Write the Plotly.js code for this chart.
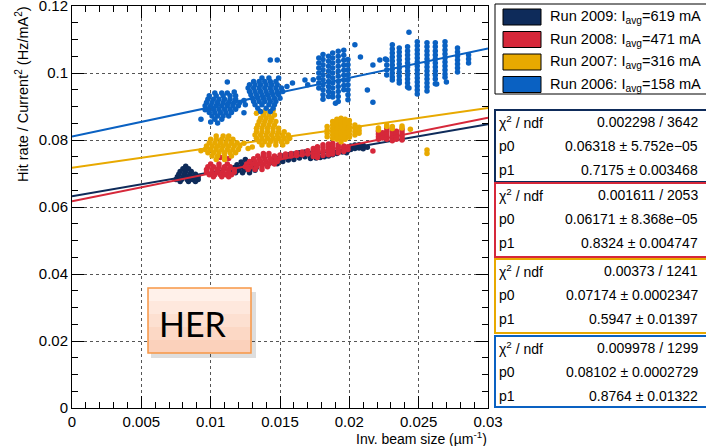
<!DOCTYPE html>
<html>
<head>
<meta charset="utf-8">
<script src="https://cdn.plot.ly/plotly-3.0.1.min.js"></script>
<style>html,body{margin:0;padding:0;background:#fff;}#chart{width:706px;height:446px;}</style>
</head>
<body>
<div id="chart"></div>
<script>
// ---------------- data ----------------
var runs = ['2009', '2008', '2007', '2006'];
var currents = [619, 471, 316, 158];
var colors = ['#0e2b5a', '#d6283a', '#e8a900', '#0a61c2'];
var chi2Text = ['0.002298 / 3642', '0.001611 / 2053', '0.00373 / 1241', '0.009978 / 1299'];
var p0 = [0.06318, 0.06171, 0.07174, 0.08102];
var p0Err = ['5.752e\u221205', '8.368e\u221205', '0.0002347', '0.0002729'];
var p1 = [0.7175, 0.8324, 0.5947, 0.8764];
var p1Err = ['0.003468', '0.004747', '0.01397', '0.01322'];
var fitRange = [0, 0.03];
var xTicks = [0, 0.005, 0.01, 0.015, 0.02, 0.025, 0.03];
var yTicks = [0, 0.02, 0.04, 0.06, 0.08, 0.1, 0.12];

// Run 2009 (navy) points [x, y]
var run2009Pts = [
[0.0082,0.0722],[0.0080,0.0714],[0.0084,0.0714],[0.0078,0.0706],[0.0082,0.0706],[0.0086,0.0706],
[0.0077,0.0698],[0.0081,0.0698],[0.0085,0.0698],[0.0089,0.0698],
[0.0076,0.0690],[0.0080,0.0690],[0.0084,0.0690],[0.0088,0.0690],[0.0091,0.0690],
[0.0075,0.0682],[0.0079,0.0682],[0.0083,0.0682],[0.0087,0.0682],[0.0091,0.0682],
[0.0078,0.0676],[0.0084,0.0676],[0.0089,0.0676],
[0.0125,0.0742],[0.0122,0.0734],[0.0126,0.0734],[0.0130,0.0734],
[0.0119,0.0726],[0.0123,0.0726],[0.0127,0.0726],[0.0131,0.0726],
[0.0117,0.0718],[0.0121,0.0718],[0.0125,0.0718],[0.0129,0.0718],[0.0133,0.0718],
[0.0116,0.0710],[0.0120,0.0710],[0.0124,0.0710],[0.0128,0.0710],[0.0132,0.0710],
[0.0118,0.0702],[0.0123,0.0702],[0.0128,0.0702],
[0.0145,0.0740],[0.0145,0.0732],[0.0148,0.0745],[0.0148,0.0737],[0.0148,0.0729],
[0.0152,0.0752],[0.0152,0.0744],[0.0152,0.0736],[0.0156,0.0756],[0.0156,0.0748],[0.0156,0.0740],
[0.0160,0.0758],[0.0160,0.0750],[0.0160,0.0742],[0.0164,0.0762],[0.0164,0.0754],[0.0164,0.0746],
[0.0168,0.0764],[0.0168,0.0756],[0.0168,0.0750],[0.0172,0.0760],[0.0172,0.0752],[0.0172,0.0745],
[0.0176,0.0762],[0.0176,0.0754],[0.0176,0.0746],[0.0179,0.0748],[0.0182,0.0750],[0.0185,0.0752],
[0.0188,0.0756],[0.0191,0.0760],[0.0195,0.0764],[0.0198,0.0770],[0.0198,0.0762],
[0.0201,0.0782],[0.0201,0.0772],[0.0204,0.0785],[0.0204,0.0775],
[0.0207,0.0786],[0.0207,0.0776],[0.0210,0.0784],[0.0210,0.0774],[0.0213,0.0778]
];

// Run 2008 (red) points [x, y]
var run2008Pts = [
[0.0100,0.0728],[0.0106,0.0728],[0.0112,0.0728],
[0.0098,0.0720],[0.0102,0.0720],[0.0106,0.0720],[0.0110,0.0720],[0.0114,0.0720],
[0.0097,0.0712],[0.0101,0.0712],[0.0105,0.0712],[0.0109,0.0712],[0.0113,0.0712],[0.0117,0.0712],
[0.0097,0.0704],[0.0101,0.0704],[0.0105,0.0704],[0.0109,0.0704],[0.0113,0.0704],[0.0117,0.0704],
[0.0099,0.0696],[0.0103,0.0696],[0.0107,0.0696],[0.0111,0.0696],[0.0115,0.0696],
[0.0102,0.0690],[0.0108,0.0690],[0.0113,0.0690],[0.0107,0.0748],[0.0113,0.0745],
[0.0138,0.0760],[0.0142,0.0760],
[0.0134,0.0752],[0.0138,0.0752],[0.0142,0.0752],[0.0146,0.0752],
[0.0131,0.0744],[0.0135,0.0744],[0.0139,0.0744],[0.0143,0.0744],[0.0147,0.0744],
[0.0128,0.0736],[0.0132,0.0736],[0.0136,0.0736],[0.0140,0.0736],[0.0144,0.0736],[0.0148,0.0736],
[0.0126,0.0728],[0.0130,0.0728],[0.0134,0.0728],[0.0138,0.0728],[0.0142,0.0728],[0.0146,0.0728],
[0.0125,0.0720],[0.0129,0.0720],[0.0133,0.0720],[0.0137,0.0720],[0.0141,0.0720],
[0.0127,0.0712],[0.0132,0.0712],[0.0137,0.0712],
[0.0150,0.0755],[0.0150,0.0747],[0.0154,0.0758],[0.0154,0.0750],[0.0158,0.0760],[0.0158,0.0752],
[0.0162,0.0762],[0.0162,0.0754],[0.0166,0.0764],[0.0166,0.0756],[0.0170,0.0768],[0.0170,0.0758],
[0.0174,0.0775],[0.0174,0.0767],[0.0174,0.0759],[0.0174,0.0751],
[0.0177,0.0780],[0.0177,0.0772],[0.0177,0.0764],[0.0177,0.0756],[0.0177,0.0748],
[0.0181,0.0786],[0.0181,0.0778],[0.0181,0.0770],[0.0181,0.0762],[0.0181,0.0754],
[0.0185,0.0788],[0.0185,0.0780],[0.0185,0.0772],[0.0185,0.0764],[0.0185,0.0756],
[0.0188,0.0790],[0.0188,0.0782],[0.0188,0.0774],[0.0188,0.0766],[0.0188,0.0758],
[0.0192,0.0786],[0.0192,0.0778],[0.0192,0.0770],[0.0192,0.0762],
[0.0196,0.0782],[0.0196,0.0774],[0.0196,0.0766],[0.0199,0.0780],[0.0199,0.0772],
[0.0221,0.0826],[0.0221,0.0818],[0.0221,0.0810],[0.0221,0.0802],
[0.0224,0.0822],[0.0224,0.0814],[0.0224,0.0806],
[0.0227,0.0835],[0.0227,0.0826],[0.0227,0.0818],[0.0227,0.0810],[0.0227,0.0802],
[0.0231,0.0830],[0.0231,0.0822],[0.0231,0.0814],[0.0231,0.0806],[0.0231,0.0798],
[0.0234,0.0826],[0.0234,0.0818],[0.0234,0.0810],[0.0234,0.0802],
[0.0238,0.0832],[0.0238,0.0824],[0.0238,0.0816],[0.0238,0.0808],[0.0238,0.0800],
[0.0217,0.0767]
];

// Run 2007 (gold) points [x, y]
var run2007Pts = [
[0.0104,0.0812],[0.0109,0.0812],[0.0113,0.0812],
[0.0100,0.0802],[0.0104,0.0802],[0.0108,0.0802],[0.0112,0.0802],[0.0116,0.0802],
[0.0099,0.0792],[0.0103,0.0792],[0.0107,0.0792],[0.0111,0.0792],[0.0115,0.0792],[0.0119,0.0792],
[0.0097,0.0782],[0.0101,0.0782],[0.0105,0.0782],[0.0109,0.0782],[0.0113,0.0782],[0.0117,0.0782],[0.0121,0.0782],
[0.0096,0.0772],[0.0100,0.0772],[0.0104,0.0772],[0.0108,0.0772],[0.0112,0.0772],[0.0116,0.0772],[0.0120,0.0772],
[0.0098,0.0762],[0.0102,0.0762],[0.0106,0.0762],[0.0110,0.0762],[0.0114,0.0762],[0.0118,0.0762],
[0.0101,0.0752],[0.0105,0.0752],[0.0110,0.0752],[0.0115,0.0752],[0.0104,0.0742],[0.0110,0.0742],
[0.0124,0.0790],[0.0127,0.0775],[0.0093,0.0768],[0.0130,0.0779],
[0.0139,0.0885],[0.0143,0.0885],[0.0133,0.0880],[0.0145,0.0889],
[0.0138,0.0875],[0.0142,0.0875],[0.0146,0.0875],
[0.0136,0.0865],[0.0140,0.0865],[0.0144,0.0865],
[0.0135,0.0855],[0.0139,0.0855],[0.0143,0.0855],[0.0147,0.0855],
[0.0134,0.0845],[0.0138,0.0845],[0.0142,0.0845],[0.0146,0.0845],
[0.0133,0.0835],[0.0137,0.0835],[0.0141,0.0835],[0.0145,0.0835],[0.0149,0.0835],
[0.0133,0.0825],[0.0137,0.0825],[0.0141,0.0825],[0.0145,0.0825],[0.0149,0.0825],[0.0153,0.0825],
[0.0132,0.0815],[0.0136,0.0815],[0.0140,0.0815],[0.0144,0.0815],[0.0148,0.0815],[0.0152,0.0815],[0.0156,0.0815],
[0.0133,0.0805],[0.0137,0.0805],[0.0141,0.0805],[0.0145,0.0805],[0.0149,0.0805],[0.0153,0.0805],[0.0157,0.0805],
[0.0135,0.0795],[0.0139,0.0795],[0.0143,0.0795],[0.0147,0.0795],[0.0151,0.0795],[0.0155,0.0795],
[0.0137,0.0785],[0.0142,0.0785],[0.0147,0.0785],[0.0152,0.0785],
[0.0184,0.0840],[0.0184,0.0830],[0.0184,0.0820],[0.0184,0.0810],
[0.0188,0.0855],[0.0188,0.0845],[0.0188,0.0835],[0.0188,0.0825],[0.0188,0.0815],[0.0188,0.0805],
[0.0191,0.0862],[0.0191,0.0852],[0.0191,0.0842],[0.0191,0.0832],[0.0191,0.0822],[0.0191,0.0812],[0.0191,0.0802],
[0.0194,0.0865],[0.0194,0.0855],[0.0194,0.0845],[0.0194,0.0835],[0.0194,0.0825],[0.0194,0.0815],[0.0194,0.0805],[0.0194,0.0795],
[0.0197,0.0862],[0.0197,0.0852],[0.0197,0.0842],[0.0197,0.0832],[0.0197,0.0822],[0.0197,0.0812],[0.0197,0.0802],
[0.0200,0.0858],[0.0200,0.0848],[0.0200,0.0838],[0.0200,0.0828],[0.0200,0.0818],[0.0200,0.0808],
[0.0204,0.0845],[0.0204,0.0835],[0.0204,0.0825],[0.0204,0.0815],
[0.0207,0.0838],[0.0207,0.0828],[0.0207,0.0820],
[0.0221,0.0836],[0.0221,0.0830],[0.0227,0.0845],[0.0227,0.0840],[0.0231,0.0840],[0.0231,0.0834],
[0.0238,0.0842],[0.0238,0.0836],[0.0244,0.0832],[0.0256,0.0770],[0.0256,0.0760]
];

// Run 2006 (blue) points [x, y]
var run2006Pts = [
[0.0103,0.0940],[0.0108,0.0940],[0.0112,0.0940],
[0.0099,0.0932],[0.0104,0.0932],[0.0109,0.0932],[0.0114,0.0932],[0.0118,0.0932],
[0.0098,0.0922],[0.0102,0.0922],[0.0106,0.0922],[0.0110,0.0922],[0.0114,0.0922],[0.0118,0.0922],
[0.0097,0.0912],[0.0101,0.0912],[0.0105,0.0912],[0.0109,0.0912],[0.0113,0.0912],[0.0117,0.0912],[0.0121,0.0912],
[0.0096,0.0902],[0.0100,0.0902],[0.0104,0.0902],[0.0108,0.0902],[0.0112,0.0902],[0.0116,0.0902],[0.0120,0.0902],
[0.0098,0.0892],[0.0102,0.0892],[0.0106,0.0892],[0.0110,0.0892],[0.0114,0.0892],[0.0118,0.0892],
[0.0099,0.0882],[0.0103,0.0882],[0.0107,0.0882],[0.0111,0.0882],[0.0115,0.0882],
[0.0101,0.0872],[0.0105,0.0872],[0.0109,0.0872],[0.0113,0.0872],[0.0103,0.0862],[0.0108,0.0862],
[0.0093,0.0862],[0.0112,0.0973],[0.0100,0.0854],[0.0105,0.0851],[0.0124,0.0918],[0.0096,0.0890],[0.0117,0.0943],
[0.0137,0.0985],[0.0142,0.0985],
[0.0131,0.0975],[0.0135,0.0975],[0.0139,0.0975],[0.0143,0.0975],[0.0147,0.0975],
[0.0128,0.0965],[0.0132,0.0965],[0.0136,0.0965],[0.0140,0.0965],[0.0144,0.0965],[0.0148,0.0965],
[0.0127,0.0955],[0.0131,0.0955],[0.0135,0.0955],[0.0139,0.0955],[0.0143,0.0955],[0.0147,0.0955],[0.0151,0.0955],
[0.0128,0.0945],[0.0132,0.0945],[0.0136,0.0945],[0.0140,0.0945],[0.0144,0.0945],[0.0148,0.0945],[0.0152,0.0945],
[0.0129,0.0935],[0.0133,0.0935],[0.0137,0.0935],[0.0141,0.0935],[0.0145,0.0935],[0.0149,0.0935],
[0.0130,0.0925],[0.0134,0.0925],[0.0138,0.0925],[0.0142,0.0925],[0.0146,0.0925],[0.0150,0.0925],
[0.0131,0.0915],[0.0135,0.0915],[0.0139,0.0915],[0.0143,0.0915],[0.0147,0.0915],
[0.0132,0.0905],[0.0137,0.0905],[0.0142,0.0905],[0.0146,0.0905],
[0.0134,0.0895],[0.0140,0.0895],[0.0145,0.0895],[0.0136,0.0885],[0.0143,0.0885],
[0.0143,0.1039],[0.0148,0.1039],[0.0149,0.0985],[0.0159,0.0970],[0.0124,0.0881],[0.0125,0.0905],[0.0155,0.0960],[0.0168,0.0979],
[0.0178,0.1045],[0.0178,0.1030],[0.0178,0.1015],[0.0178,0.1000],[0.0178,0.0985],[0.0178,0.0970],[0.0178,0.0955],
[0.0181,0.1055],[0.0181,0.1040],[0.0181,0.1025],[0.0181,0.1010],[0.0181,0.0995],[0.0181,0.0980],[0.0181,0.0965],[0.0181,0.0950],[0.0181,0.0935],[0.0181,0.0922],
[0.0185,0.1050],[0.0185,0.1035],[0.0185,0.1020],[0.0185,0.1005],[0.0185,0.0990],[0.0185,0.0975],[0.0185,0.0960],[0.0185,0.0945],[0.0185,0.0930],
[0.0188,0.1060],[0.0188,0.1045],[0.0188,0.1030],[0.0188,0.1015],[0.0188,0.1000],[0.0188,0.0985],[0.0188,0.0970],[0.0188,0.0955],[0.0188,0.0940],[0.0188,0.0928],
[0.0192,0.1065],[0.0192,0.1050],[0.0192,0.1035],[0.0192,0.1020],[0.0192,0.1005],[0.0192,0.0990],[0.0192,0.0975],[0.0192,0.0960],[0.0192,0.0945],[0.0192,0.0930],[0.0192,0.0915],
[0.0196,0.1068],[0.0196,0.1053],[0.0196,0.1038],[0.0196,0.1023],[0.0196,0.1008],[0.0196,0.0993],[0.0196,0.0978],[0.0196,0.0963],[0.0196,0.0950],
[0.0199,0.1040],[0.0199,0.1025],[0.0199,0.1010],[0.0199,0.0995],[0.0199,0.0980],[0.0199,0.0965],[0.0199,0.0950],[0.0199,0.0935],[0.0199,0.0920],
[0.0174,0.0980],[0.0170,0.0965],[0.0204,0.1084],[0.0208,0.1048],[0.0213,0.0949],[0.0217,0.0913],[0.0190,0.0910],
[0.0217,0.1024],[0.0222,0.1039],[0.0226,0.1042],
[0.0227,0.1039],[0.0227,0.1024],[0.0227,0.1009],[0.0227,0.0994],
[0.0231,0.1084],[0.0231,0.1072],[0.0231,0.1060],[0.0231,0.1048],[0.0231,0.1036],[0.0231,0.1024],[0.0231,0.1012],[0.0231,0.1000],[0.0231,0.0988],[0.0231,0.0979],
[0.0236,0.1075],[0.0236,0.1063],[0.0236,0.1051],[0.0236,0.1039],[0.0236,0.1027],[0.0236,0.1015],[0.0236,0.1003],[0.0236,0.0991],[0.0236,0.0979],[0.0236,0.0970],
[0.0242,0.1078],[0.0242,0.1066],[0.0242,0.1054],[0.0242,0.1042],[0.0242,0.1030],[0.0242,0.1018],[0.0242,0.1006],[0.0242,0.0994],[0.0242,0.0982],[0.0242,0.0970],[0.0242,0.0958],
[0.0249,0.1093],[0.0249,0.1081],[0.0249,0.1069],[0.0249,0.1057],[0.0249,0.1045],[0.0249,0.1033],[0.0249,0.1021],[0.0249,0.1009],[0.0249,0.0997],[0.0249,0.0985],[0.0249,0.0973],[0.0249,0.0961],[0.0249,0.0949],
[0.0256,0.1090],[0.0256,0.1078],[0.0256,0.1066],[0.0256,0.1054],[0.0256,0.1042],[0.0256,0.1030],[0.0256,0.1018],[0.0256,0.1006],[0.0256,0.0994],[0.0256,0.0982],[0.0256,0.0970],[0.0256,0.0958],[0.0256,0.0946],
[0.0262,0.1090],[0.0262,0.1078],[0.0262,0.1066],[0.0262,0.1054],[0.0262,0.1042],[0.0262,0.1030],[0.0262,0.1018],[0.0262,0.1006],[0.0262,0.0994],[0.0262,0.0982],[0.0262,0.0968],
[0.0269,0.1093],[0.0269,0.1081],[0.0269,0.1069],[0.0269,0.1057],[0.0269,0.1045],[0.0269,0.1033],[0.0269,0.1021],[0.0269,0.1009],[0.0269,0.0997],[0.0269,0.0987],
[0.0278,0.1075],[0.0278,0.1063],[0.0278,0.1051],[0.0278,0.1039],[0.0278,0.1027],[0.0278,0.1015],[0.0278,0.1003],
[0.0286,0.1054],[0.0286,0.1042],[0.0286,0.1030],
[0.0243,0.1122],[0.0243,0.0955],[0.0249,0.0937],[0.0263,0.0967],[0.0270,0.0973]
];

var pointSets = [run2009Pts, run2008Pts, run2007Pts, run2006Pts];

// ---------------- helpers for layout positions (pixels -> paper) ----------------
var PL = 72, PR = 488, PT = 6, PB = 408;
function px(x) { return (x - PL) / (PR - PL); }
function py(y) { return (PB - y) / (PB - PT); }

var FONT = 'Liberation Sans, Arial, Helvetica, sans-serif';

var traces = [];
for (var i = 0; i < runs.length; i++) {
  var pts = pointSets[i];
  traces.push({
    type: 'scatter', mode: 'markers',
    x: pts.map(function (p) { return p[0]; }),
    y: pts.map(function (p) { return p[1]; }),
    marker: { color: colors[i], size: 5.5, symbol: 'circle', line: { width: 0 } },
    hoverinfo: 'skip', cliponaxis: true
  });
  var a = p0[i], b = p1[i];
  traces.push({
    type: 'scatter', mode: 'lines',
    x: fitRange.slice(),
    y: fitRange.map(function (x) { return a + b * x; }),
    line: { color: colors[i], width: 2 },
    hoverinfo: 'skip'
  });
}

var shapes = [];
var annotations = [];

// Legend box
shapes.push({ type: 'rect', xref: 'paper', yref: 'paper', x0: px(495), x1: px(712), y0: py(94), y1: py(4),
  line: { color: '#000', width: 1 }, fillcolor: '#fff', layer: 'above' });
for (var i = 0; i < runs.length; i++) {
  var cy = 17 + 22.5 * i;
  shapes.push({ type: 'rect', xref: 'paper', yref: 'paper', x0: px(503), x1: px(541), y0: py(cy + 8), y1: py(cy - 8),
    line: { color: '#000', width: 1 }, fillcolor: colors[i], layer: 'above' });
  annotations.push({ xref: 'paper', yref: 'paper', x: px(548), y: py(cy), xanchor: 'left', yanchor: 'middle',
    text: 'Run ' + runs[i] + ': I<sub>avg</sub>=' + currents[i] + ' mA', showarrow: false,
    font: { family: FONT, size: 14.6, color: '#000' } });
}

// Fit statistics boxes
var boxTop = [110, 183, 259, 336];
var boxBot = [182, 257, 333, 407];
for (var i = 0; i < runs.length; i++) {
  shapes.push({ type: 'rect', xref: 'paper', yref: 'paper', x0: px(495), x1: px(712), y0: py(boxBot[i]), y1: py(boxTop[i]),
    line: { color: colors[i], width: 2 }, fillcolor: '#fff', layer: 'above' });
  var rows = [
    ['\u03c7<sup>2</sup> / ndf', chi2Text[i]],
    ['p0', p0[i] + ' \u00b1 ' + p0Err[i]],
    ['p1', p1[i] + ' \u00b1 ' + p1Err[i]]
  ];
  for (var r = 0; r < 3; r++) {
    var ry = boxTop[i] + 12 + 24 * r;
    annotations.push({ xref: 'paper', yref: 'paper', x: px(497), y: py(ry), xanchor: 'left', yanchor: 'middle',
      text: rows[r][0], showarrow: false, font: { family: FONT, size: 14, color: '#000' } });
    annotations.push({ xref: 'paper', yref: 'paper', x: px(700), y: py(ry), xanchor: 'right', yanchor: 'middle',
      text: rows[r][1], showarrow: false, font: { family: FONT, size: 14, color: '#000' } });
  }
}

// HER label box (shadow + vertical gradient strips + border)
shapes.push({ type: 'rect', xref: 'paper', yref: 'paper', x0: px(151), x1: px(256), y0: py(358), y1: py(292),
  line: { width: 0 }, fillcolor: 'rgba(0,0,0,0.13)', layer: 'above' });
var herStops = ['#fff1ea', '#fee8dd', '#fde0d1', '#fcd8c5', '#fbd1bb'];
var hTop = 288, hBot = 353, hStep = (hBot - hTop) / herStops.length;
for (var k = 0; k < herStops.length; k++) {
  shapes.push({ type: 'rect', xref: 'paper', yref: 'paper', x0: px(148), x1: px(251),
    y0: py(hTop + hStep * (k + 1)), y1: py(hTop + hStep * k),
    line: { width: 0 }, fillcolor: herStops[k], layer: 'above' });
}
shapes.push({ type: 'rect', xref: 'paper', yref: 'paper', x0: px(148), x1: px(251), y0: py(353), y1: py(288),
  line: { color: '#f79646', width: 1.5 }, fillcolor: 'rgba(0,0,0,0)', layer: 'above' });
annotations.push({ xref: 'paper', yref: 'paper', x: px(157), y: py(323), xanchor: 'left', yanchor: 'middle',
  text: 'HER', showarrow: false, font: { family: 'Lato, Open Sans, sans-serif', size: 34, color: '#000' } });

// Axis titles
annotations.push({ xref: 'paper', yref: 'paper', x: px(489), y: py(438), xanchor: 'right', yanchor: 'middle',
  text: 'Inv. beam size (\u00b5m<sup>-1</sup>)', showarrow: false, font: { family: FONT, size: 14, color: '#000' } });
annotations.push({ xref: 'paper', yref: 'paper', x: px(22), y: py(4), xanchor: 'center', yanchor: 'top', textangle: -90,
  text: 'Hit rate / Current<sup>2</sup> (Hz/mA<sup>2</sup>)', showarrow: false, font: { family: FONT, size: 14.5, color: '#000' } });

var axisCommon = {
  ticks: 'inside', tickcolor: '#000', tickwidth: 1,
  showline: true, linecolor: '#000', linewidth: 1, mirror: 'ticks',
  showgrid: true, gridcolor: '#555', gridwidth: 1, griddash: 'dot',
  zeroline: false, tickfont: { family: FONT, size: 15, color: '#000' },
  ticklabeloverflow: 'allow', fixedrange: true
};

var layout = {
  width: 706, height: 446,
  margin: { l: PL, r: 706 - PR, t: PT, b: 446 - PB, pad: 0 },
  paper_bgcolor: '#fff', plot_bgcolor: '#fff',
  showlegend: false,
  xaxis: Object.assign({}, axisCommon, {
    range: [fitRange[0], fitRange[1]], tickmode: 'array', tickvals: xTicks,
    ticktext: xTicks.map(String), ticklen: 12,
    minor: { dtick: 0.001, tick0: 0, ticks: 'inside', ticklen: 6, tickcolor: '#000', showgrid: false }
  }),
  yaxis: Object.assign({}, axisCommon, {
    range: [0, 0.12000001], tickmode: 'array', tickvals: yTicks,
    ticktext: yTicks.map(String), ticklen: 12,
    minor: { dtick: 0.005, tick0: 0, ticks: 'inside', ticklen: 6, tickcolor: '#000', showgrid: false }
  }),
  shapes: shapes,
  annotations: annotations
};

Plotly.newPlot('chart', traces, layout, { staticPlot: true, displayModeBar: false });
</script>
</body>
</html>
